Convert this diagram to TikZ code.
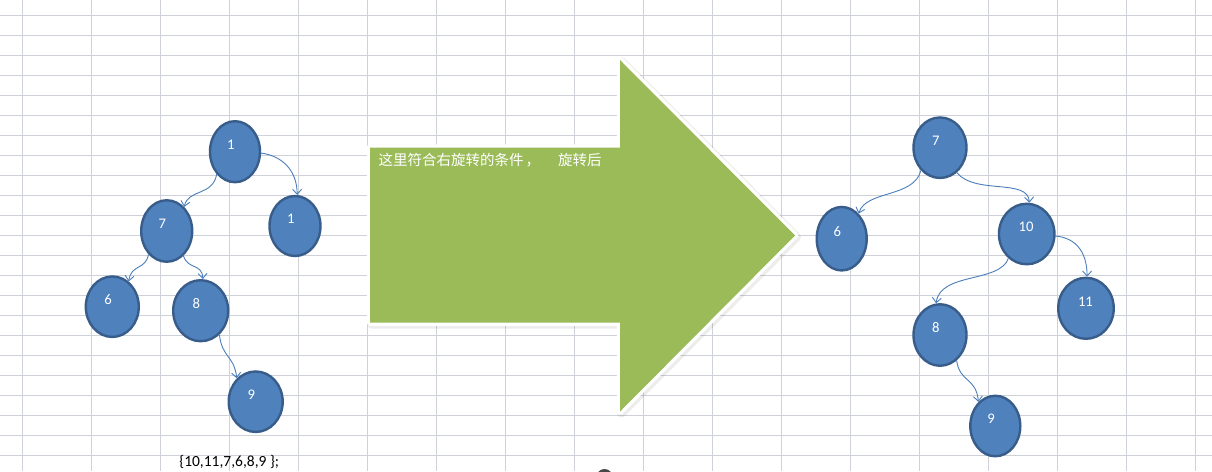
\documentclass[tikz,border=0pt]{standalone}
\usepackage{fontspec}
\setmainfont{Carlito}
\newfontfamily\cjk{Noto Sans CJK SC}
\usetikzlibrary{shapes.geometric,arrows.meta}
\definecolor{gridc}{RGB}{206,209,216}
\definecolor{nodefill}{RGB}{79,129,189}
\definecolor{nodeline}{RGB}{56,93,138}
\definecolor{edgec}{RGB}{74,126,187}
\definecolor{arrowgreen}{RGB}{155,187,89}
\begin{document}
\begin{tikzpicture}[x=1pt,y=-1pt,
  tn/.style={ellipse, fill=nodefill, draw=nodeline, line width=2.4pt, text=white,
    font=\fontsize{14.67}{16}\selectfont, text width=16pt, align=left,
    text height=10pt, text depth=14.6pt, inner sep=0pt},
  conn/.style={draw=edgec, line width=0.9pt, -{Straight Barb[length=5pt,width=9pt]}},
  gridline/.style={draw=gridc, line width=1pt},
  greenarrow/.style={fill=arrowgreen},
]
\useasboundingbox (0,0) rectangle (1212,471);
\clip (0,0) rectangle (1212,471);
\fill[white] (0,0) rectangle (1212,471);
% grid
\foreach \i in {0,...,17} \draw[gridline] ({22.3+69*\i},0) -- ({22.3+69*\i},471);
\foreach \j in {0,...,22} \draw[gridline] (0,{15.5+20*\j}) -- (1212,{15.5+20*\j});

% green block arrow
\draw[line width=9pt, black, opacity=0.07, line join=round, shift={(1.5,1.5)}]
  (370,147.5) -- (620,147.5) -- (620,60) -- (795,235.5) -- (620,411.5) -- (620,322.5) -- (370,322.5) -- cycle;
\draw[line width=6.5pt, white, line join=round]
  (370,147.5) -- (620,147.5) -- (620,60) -- (795,235.5) -- (620,411.5) -- (620,322.5) -- (370,322.5) -- cycle;
\fill[greenarrow]
  (370,147.5) -- (620,147.5) -- (620,60) -- (795,235.5) -- (620,411.5) -- (620,322.5) -- (370,322.5) -- cycle;
\node[anchor=base west, text=white, font=\cjk\fontsize{14.5}{16}\selectfont, inner sep=0pt] (msg)
  at (378.5,165) {这里符合右旋转的条件\hspace{2pt}，\hspace{18pt}旋转后};

% left tree
\node[tn, minimum width=50pt, minimum height=61pt] (L1) at (235,151.7) {1};
\node[tn, minimum width=51pt, minimum height=60pt] (LR1) at (295,226) {1};
\node[tn, minimum width=51pt, minimum height=61.5pt] (L7) at (166.7,231) {7};
\node[tn, minimum width=53pt, minimum height=60.5pt] (L6) at (112.3,306.7) {6};
\node[tn, minimum width=55pt, minimum height=61pt] (L8) at (200.7,310.7) {8};
\node[tn, minimum width=54pt, minimum height=60.5pt] (L9) at (255.7,401.7) {9};

\draw[conn] (L1.231.7) .. controls (213,196) and (188,189) .. (L7.54.2);
\draw[conn] (L1.-3) .. controls (282,156) and (297,170) .. (LR1.86);
\draw[conn] (L7.232.5) .. controls (146,270) and (131,264) .. (L6.57.4);
\draw[conn] (L7.304) .. controls (188,270) and (202,263) .. (L8.86.5);
\draw[conn] (L8.308.5) .. controls (222,358) and (234,355) .. (L9.129.6);

\node[anchor=base, font=\fontsize{15.5}{17}\selectfont, inner sep=0pt] (arr) at (229.2,466) {\{10,11,7,6,8,9 \};};

% right tree
\node[tn, minimum width=53pt, minimum height=60.5pt] (R7) at (940,147.7) {7};
\node[tn, minimum width=50pt, minimum height=63.5pt] (R6) at (841.7,238.7) {6};
\node[tn, minimum width=55.5pt, minimum height=60.5pt] (R10) at (1026.7,234) {10};
\node[tn, minimum width=55.5pt, minimum height=61pt] (R11) at (1086,308.3) {11};
\node[tn, minimum width=53pt, minimum height=61.5pt] (R8) at (940,335) {8};
\node[tn, minimum width=50pt, minimum height=60.5pt] (R9) at (995.3,426) {9};

\draw[conn] (R7.230.4) .. controls (914,198) and (866,190) .. (R6.56.8);
\draw[conn] (R7.304.3) .. controls (975,195) and (1028,178) .. (R10.85.4);
\draw[conn] (R10.-4) .. controls (1076,238) and (1087,252) .. (R11.88);
\draw[conn] (R10.233.1) .. controls (1000,283) and (940,272) .. (R8.97);
\draw[conn] (R8.303.5) .. controls (960,383) and (976,377) .. (R9.125.6);

% partial dark disc at the bottom edge
\fill[black!72] (604.5,477) circle (8);
\end{tikzpicture}
\end{document}
